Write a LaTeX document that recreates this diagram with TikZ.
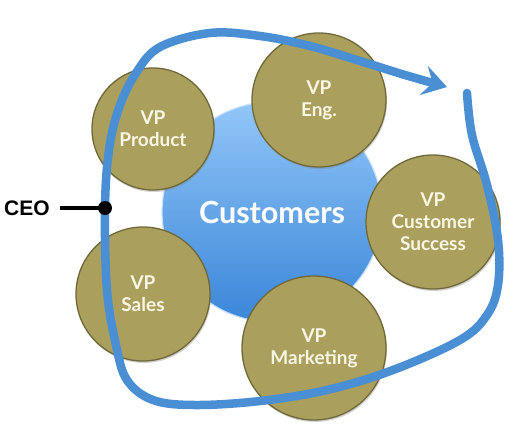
\documentclass[tikz,border=0pt]{standalone}
\usepackage{fontspec}
\setsansfont{Lato}
\newfontfamily\ceofont{Liberation Sans}
\usetikzlibrary{arrows.meta,shadows}
\definecolor{vpfill}{HTML}{AB9F5E}
\definecolor{vpedge}{HTML}{6F6838}
\definecolor{vptext}{HTML}{FAF6E4}
\definecolor{custtop}{HTML}{92C6F8}
\definecolor{custmid}{HTML}{62A9F0}
\definecolor{custbot}{HTML}{3A86D8}
\definecolor{loopblue}{HTML}{4A8FD4}
\tikzset{vp/.style={circle, fill=vpfill, draw=vpedge, line width=1.3pt,
  inner sep=0pt, text=vptext, align=center,
  font=\sffamily\bfseries\fontsize{19}{22}\selectfont,
  drop shadow={opacity=0.35, shadow xshift=1pt, shadow yshift=-2pt}}}
\begin{document}
\begin{tikzpicture}[x=1pt, y=-1pt]
\useasboundingbox (0,0) rectangle (530,442);
\node[circle, minimum size=220pt, inner sep=0pt, top color=custtop,
  middle color=custmid, bottom color=custbot, draw=custtop!50!white,
  line width=1.2pt, text=white,
  font=\sffamily\bfseries\fontsize{30.5}{34}\selectfont]
  (customers) at (272,212) {Customers};
\node[vp, minimum size=122pt] (product) at (153,129) {VP\\Product};
\node[vp, minimum size=134pt] (eng) at (319,100) {VP\\Eng.};
\node[vp, minimum size=134pt] (success) at (433,222) {VP\\Customer\\Success};
\node[vp, minimum size=144pt] (marketing) at (314,348) {VP\\Marketing};
\node[vp, minimum size=134pt] (sales) at (143,294) {VP\\Sales};
% the loop round the circles
\draw[loopblue, line width=8.5pt, line cap=round,
  -{Stealth[length=24pt, width=30pt, inset=9pt]}]
  plot[smooth, tension=0.6] coordinates {(467,93) (472,135) (487,185)
  (498,240) (498,285) (487,315) (460,340) (393,370) (327,390) (260,401)
  (195,405) (153,400) (127,380) (116,345) (107,290) (105,208) (109,150)
  (119,108) (136,73) (160,47) (210,33) (260,36) (310,46) (360,61)
  (405,75) (447,87)};
\coordinate (dot) at (105,208);
\fill (dot) circle (7pt);
\node[font=\ceofont\bfseries\fontsize{21}{24}\selectfont, inner sep=0pt]
  (ceo) at (27,208) {CEO};
\draw[line width=4pt] ([xshift=10pt]ceo.east) -- (dot);
\end{tikzpicture}
\end{document}
